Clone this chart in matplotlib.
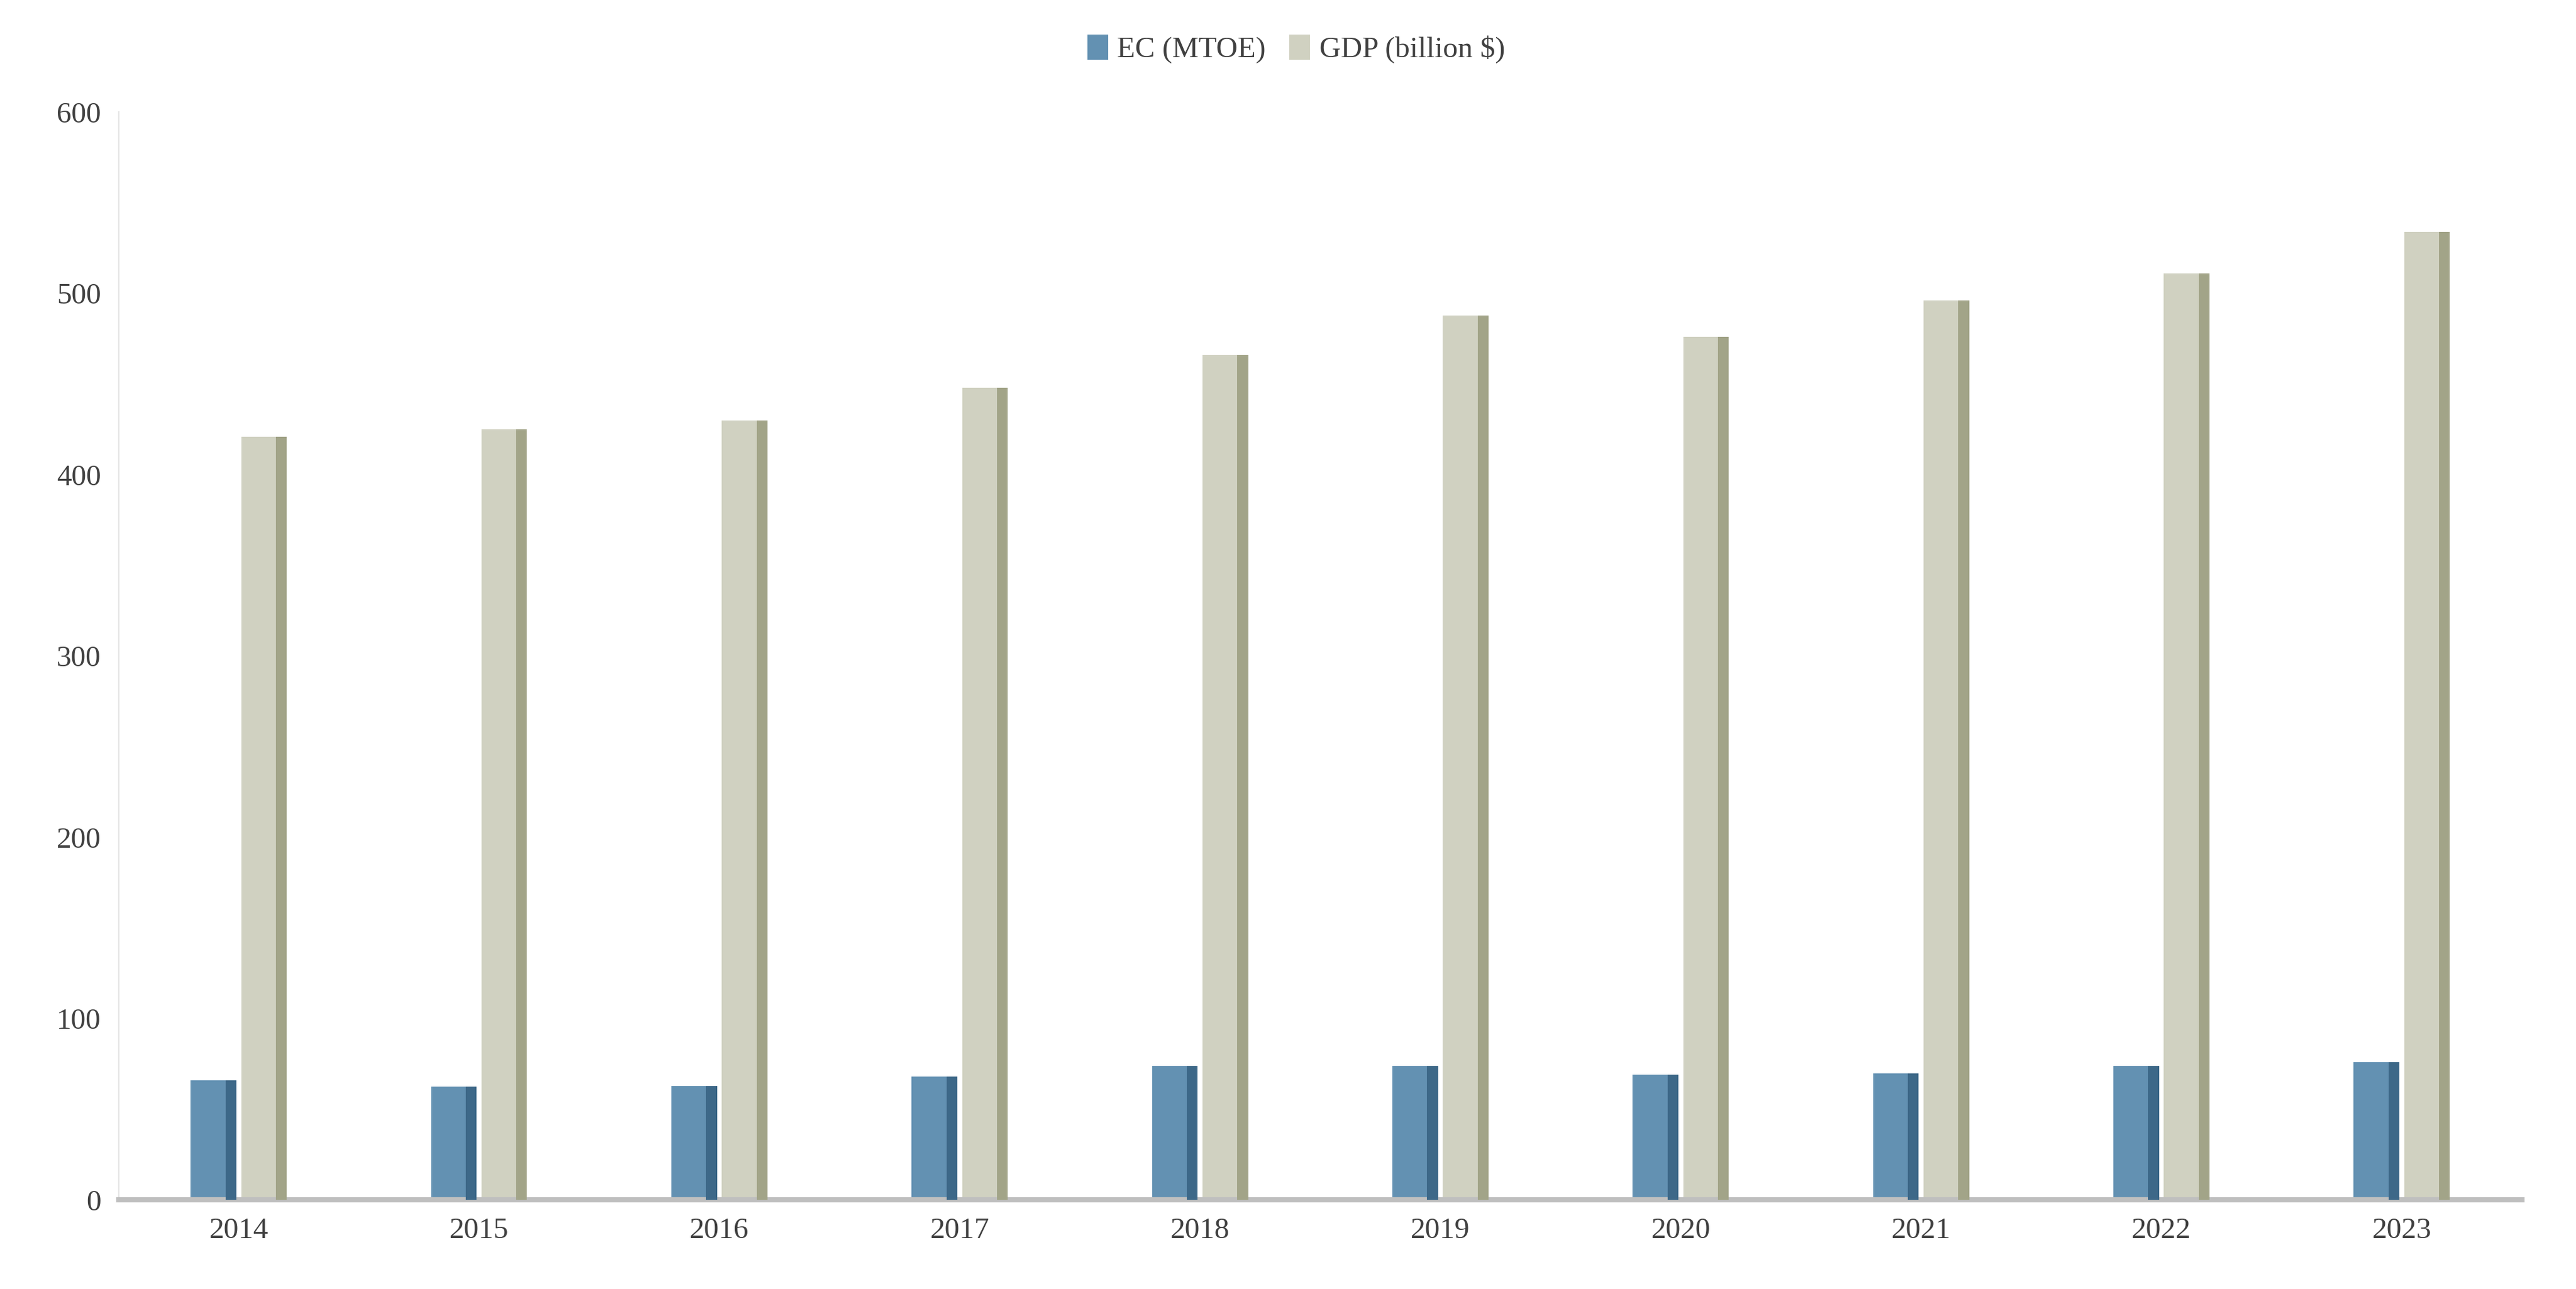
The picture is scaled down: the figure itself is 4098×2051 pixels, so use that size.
import matplotlib.pyplot as plt
import numpy as np

years = ['2014','2015','2016','2017','2018','2019','2020','2021','2022','2023']
ec = [66, 62.5, 63, 68, 74, 74, 69, 70, 74, 76]
gdp = [421, 425, 430, 448, 466, 488, 476, 496, 511, 534]

plt.rcParams['font.family'] = ['Liberation Serif', 'DejaVu Serif']
fig = plt.figure(figsize=(20.49, 10.255), dpi=200)
ax = fig.add_axes([0.046, 0.069, 0.933, 0.844])
x = np.arange(len(years))
w = 0.19
side = 0.045
ec_x = x - 0.105
gdp_x = x + 0.105
ax.bar(ec_x, ec, width=w, color='#6391b2', label='EC (MTOE)', zorder=2)
ax.bar(ec_x + w/2 - side/2, ec, width=side, color='#3d6888', zorder=3)
ax.bar(gdp_x, gdp, width=w, color='#d0d1c1', label='GDP (billion $)', zorder=2)
ax.bar(gdp_x + w/2 - side/2, gdp, width=side, color='#a2a488', zorder=3)

ax.set_xlim(-0.5, len(years) - 0.5)
ax.set_ylim(0, 600)
ax.set_yticks(range(0, 601, 100))
ax.set_xticks(x)
ax.set_xticklabels(years)
ax.tick_params(axis='both', labelsize=17, colors='#404040', length=0, pad=10)
for s in ['top', 'right']:
    ax.spines[s].set_visible(False)
ax.spines['left'].set_color('#e6e6e6')
ax.spines['bottom'].set_color('#bfbfbf')
ax.spines['bottom'].set_linewidth(3)
ax.legend(loc='lower center', bbox_to_anchor=(0.49, 1.02), ncol=2, frameon=False,
          fontsize=17, handlelength=0.7, handleheight=0.9, handletextpad=0.3,
          columnspacing=0.8, labelcolor='#404040')
fig.savefig('out.png', dpi=200)
